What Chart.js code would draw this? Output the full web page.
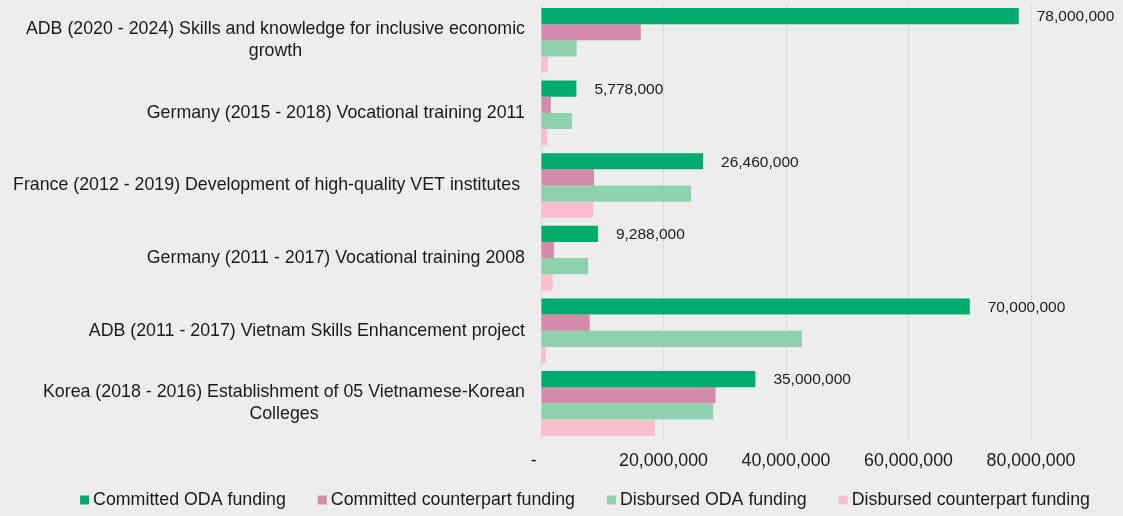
<!DOCTYPE html>
<html>
<head>
<meta charset="utf-8">
<script src="https://cdn.jsdelivr.net/npm/chart.js@4.4.1/dist/chart.umd.min.js"></script>
<style>
  html, body { margin: 0; padding: 0; background: #ededed; }
  .wrap { width: 1123px; height: 516px; position: relative; }
</style>
</head>
<body>
<div class="wrap"><canvas id="chart"></canvas></div>
<script>
const categories = [
  ['ADB (2020 - 2024) Skills and knowledge for inclusive economic', 'growth'],
  ['Germany (2015 - 2018) Vocational training 2011'],
  ['France (2012 - 2019) Development of high-quality VET institutes '],
  ['Germany (2011 - 2017) Vocational training 2008'],
  ['ADB (2011 - 2017) Vietnam Skills Enhancement project'],
  ['Korea (2018 - 2016) Establishment of 05 Vietnamese-Korean', 'Colleges']
];
const committedODA = [78000000, 5778000, 26460000, 9288000, 70000000, 35000000];
const committedCounterpart = [16300000, 1600000, 8650000, 2100000, 7950000, 28500000];
const disbursedODA = [5800000, 5050000, 24500000, 7700000, 42600000, 28100000];
const disbursedCounterpart = [1100000, 1000000, 8500000, 1900000, 770000, 18600000];
const seriesNames = ['Committed ODA funding', 'Committed counterpart funding', 'Disbursed ODA funding', 'Disbursed counterpart funding'];
const seriesColors = ['#00ab6b', '#d48aab', '#8fd1ad', '#f8becb'];
const xTicks = [0, 20000000, 40000000, 60000000, 80000000];
const xTickLabels = ['-   ', '20,000,000', '40,000,000', '60,000,000', '80,000,000'];

const FONT = '"Liberation Sans", Arial, sans-serif';
Chart.defaults.font.family = FONT;
Chart.defaults.font.size = 18;
Chart.defaults.color = '#1a1a1a';

// category labels: block right-aligned, lines centred on each other (like Excel)
const yLabelPlugin = {
  id: 'yLabels',
  afterDraw(chart) {
    const ctx = chart.ctx;
    const y = chart.scales.y;
    ctx.save();
    ctx.font = '17.8px ' + FONT;
    ctx.fillStyle = '#1a1a1a';
    ctx.textAlign = 'center';
    ctx.textBaseline = 'middle';
    const right = y.right - 16;
    categories.forEach((lines, i) => {
      const w = Math.max(...lines.map(l => ctx.measureText(l).width));
      const cy = y.getPixelForTick(i);
      const lh = 22;
      lines.forEach((l, k) => {
        ctx.fillText(l, right - w / 2, cy + (k - (lines.length - 1) / 2) * lh);
      });
    });
    ctx.restore();
  }
};

// value labels on the committed ODA bars
const valueLabelPlugin = {
  id: 'valueLabels',
  afterDatasetsDraw(chart) {
    const ctx = chart.ctx;
    const meta = chart.getDatasetMeta(0);
    ctx.save();
    ctx.font = '15.5px ' + FONT;
    ctx.fillStyle = '#1a1a1a';
    ctx.textAlign = 'left';
    ctx.textBaseline = 'middle';
    meta.data.forEach((bar, i) => {
      ctx.fillText(committedODA[i].toLocaleString('en-US'), bar.x + 18, bar.y + 1);
    });
    ctx.restore();
  }
};

// legend drawn by hand: small square, tight gap to text
const legendPlugin = {
  id: 'bottomLegend',
  afterDraw(chart) {
    const ctx = chart.ctx;
    ctx.save();
    ctx.font = '17.8px ' + FONT;
    ctx.textBaseline = 'middle';
    ctx.textAlign = 'left';
    const box = 9, gap = 4, spacing = 32;
    const widths = seriesNames.map(n => box + gap + ctx.measureText(n).width);
    const total = widths.reduce((a, b) => a + b, 0) + spacing * (widths.length - 1);
    let x = 585 - total / 2;
    const cy = 500;
    seriesNames.forEach((n, i) => {
      ctx.fillStyle = seriesColors[i];
      ctx.fillRect(x, cy - box / 2, box, box);
      ctx.fillStyle = '#1a1a1a';
      ctx.fillText(n, x + box + gap, cy);
      x += widths[i] + spacing;
    });
    ctx.restore();
  }
};

new Chart(document.getElementById('chart'), {
  type: 'bar',
  data: {
    labels: categories,
    datasets: seriesNames.map((name, i) => ({
      label: name,
      data: [committedODA, committedCounterpart, disbursedODA, disbursedCounterpart][i],
      backgroundColor: seriesColors[i]
    }))
  },
  options: {
    indexAxis: 'y',
    responsive: true,
    maintainAspectRatio: false,
    animation: false,
    layout: { padding: { left: 0, right: 92, top: 4, bottom: 33 } },
    datasets: { bar: { categoryPercentage: 0.89, barPercentage: 1.0 } },
    plugins: {
      tooltip: { enabled: false },
      legend: { display: false }
    },
    scales: {
      y: {
        ticks: { display: false },
        grid: { display: false },
        border: { display: false },
        afterFit(axis) { axis.width = 541; }
      },
      x: {
        min: 0,
        max: 80000000,
        afterBuildTicks(axis) { axis.ticks = xTicks.map(v => ({ value: v })); },
        ticks: {
          autoSkip: false,
          maxRotation: 0,
          padding: 11,
          font: { size: 17.8 },
          callback: (v, i) => xTickLabels[i]
        },
        grid: { color: '#d9d9d9', lineWidth: 1, drawTicks: false },
        border: { display: false }
      }
    }
  },
  plugins: [yLabelPlugin, valueLabelPlugin, legendPlugin]
});
</script>
</body>
</html>
